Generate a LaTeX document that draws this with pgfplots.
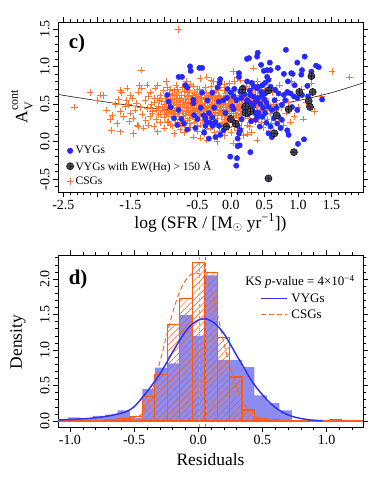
\documentclass[border=0pt]{standalone}
\usepackage{pgfplots}
\pgfplotsset{compat=1.18}
\usetikzlibrary{patterns.meta}
\usepackage{fontspec}
\setmainfont{Liberation Serif}

\definecolor{csg}{RGB}{255,115,45}
\definecolor{vyg}{RGB}{40,40,250}
\definecolor{ewfill}{RGB}{75,75,90}
\definecolor{histblue}{RGB}{140,140,240}
\definecolor{historange}{RGB}{255,90,20}
\definecolor{kdeblue}{RGB}{50,50,240}
\definecolor{kdeorange}{RGB}{255,100,40}

\pgfplotsset{
  panel/.style={
    scale only axis, width=305bp,
    tick align=outside,
    major tick length=5bp, minor tick length=3bp,
    every tick/.style={black, line width=0.5pt},
    axis line style={line width=0.7pt},
    ticklabel style={font=\fontsize{14}{14}\selectfont},
    label style={font=\fontsize{17.5}{18}\selectfont},
    yticklabel style={rotate=90, anchor=south},
    /pgf/number format/assume math mode=true,
  },
}

\begin{document}
\begin{tikzpicture}

% ---------------- panel c) ----------------
\begin{axis}[panel,
  at={(58bp,289bp)}, anchor=south west, height=170bp,
  xmin=-2.58, xmax=1.97, ymin=-0.67, ymax=1.59,
  xtick={-2.5,-2,-1.5,-1,-0.5,0,0.5,1,1.5},
  xticklabels={-2.5,,-1.5,,-0.5,0.0,0.5,1.0,1.5},
  minor xtick={-2.5,-2.4,...,1.95},
  ytick={-0.5,0,0.5,1,1.5},
  yticklabels={-0.5,0.0,0.5,1.0,1.5},
  minor ytick={-0.6,-0.5,...,1.55},
  xlabel={log (SFR / [M$_\odot$ yr\textsuperscript{−1}])},
  ylabel={A\rlap{\raisebox{-0.3em}{\fontsize{12}{12}\selectfont V}}\raisebox{0.55em}{\fontsize{12}{12}\selectfont cont}},
  xlabel style={at={(axis description cs:0.5,-0.182)}, anchor=center},
  ylabel style={at={(axis description cs:-0.118,0.5)}, anchor=center},
  legend style={at={(rel axis cs:0.024,0.015)}, anchor=south west, draw=none, fill=none,
    font=\fontsize{11.5}{13}\selectfont, row sep=1.5bp, inner sep=1bp},
  legend cell align=left,
]
\addlegendimage{only marks, mark=*, mark size=2.8bp, color=vyg}
\addlegendentry{VYGs}
\addlegendimage{only marks, mark=oplus*, mark size=3.6bp, draw=black, fill=ewfill}
\addlegendentry{VYGs with EW(Hα) > 150 Å}
\addlegendimage{only marks, mark=+, mark size=3.6bp, color=csg, line width=0.65pt}
\addlegendentry{CSGs}

% CSGs
\addplot[forget plot, only marks, mark=+, mark size=3.3bp, color=csg, line width=0.65pt] coordinates {
(-2.33,0.46) (-2.10,0.65) (-2.00,0.55) (-1.95,0.62) (-1.90,0.61) (-1.86,0.42) (-1.80,0.29) (-1.77,0.35)
(-1.78,0.15) (-1.72,0.49) (-1.70,0.24) (-1.68,0.56) (-1.65,0.68) (-1.65,0.40) (-1.65,0.13) (-1.63,0.65)
(-1.60,0.33) (-1.58,0.47) (-1.56,0.55) (-1.55,0.71) (-1.53,0.49) (-1.52,0.27) (-1.50,0.38) (-1.50,0.62)
(-1.47,0.58) (-1.46,0.31) (-1.45,0.11) (-1.43,0.42) (-1.41,0.51) (-1.40,0.22) (-1.38,0.20) (-1.38,0.66)
(-1.36,0.75) (-1.35,0.45) (-1.33,0.95) (-1.33,0.71) (-1.32,0.36) (-1.30,0.18) (-1.28,0.55) (-1.27,0.28)
(-1.25,0.75) (-1.25,0.44) (-1.23,0.22) (-1.23,0.60) (-1.21,0.33) (-1.20,0.66) (-1.19,0.50) (-1.17,0.40)
(-1.15,0.20) (-1.15,0.57) (-1.13,0.71) (-1.12,0.29) (-1.10,0.13) (-1.10,0.75) (-1.09,0.47) (-1.08,0.36)
(-1.06,0.62) (-1.05,0.25) (-1.04,0.53) (-1.02,0.42) (-1.01,0.68) (-1.00,0.32) (-0.99,0.18) (-0.98,0.58)
(-0.97,0.45) (-0.96,0.80) (-0.95,0.38) (-0.94,0.51) (-0.93,0.27) (-0.92,0.64) (-0.91,0.44) (-0.90,0.70)
(-0.89,0.34) (-0.88,0.55) (-0.87,0.21) (-0.86,0.48) (-0.85,0.11) (-0.85,0.61) (-0.84,0.40) (-0.83,0.30)
(-0.82,0.75) (-0.81,0.52) (-0.80,0.43) (-0.80,0.26) (-0.78,1.49)
(-0.79,0.66) (-0.78,0.37) (-0.77,0.57) (-0.76,0.16) (-0.75,0.47) (-0.74,0.29) (-0.73,0.72) (-0.72,0.41)
(-0.71,0.54) (-0.70,0.22) (-0.69,0.62) (-0.68,0.35) (-0.67,0.45) (-0.66,0.80) (-0.65,0.28) (-0.64,0.51)
(-0.63,0.39) (-0.62,0.68) (-0.61,0.19) (-0.60,0.46) (-0.59,0.58) (-0.58,0.33) (-0.57,0.42) (-0.56,0.06)
(-0.56,0.74) (-0.55,0.25) (-0.54,0.52) (-0.53,0.37) (-0.52,0.63) (-0.51,0.44) (-0.50,0.14) (-0.50,0.55)
(-0.49,0.30) (-0.48,0.48) (-0.47,0.70) (-0.46,0.84) (-0.46,0.40) (-0.45,0.22) (-0.44,0.59) (-0.43,0.34)
(-0.42,0.50) (-0.41,0.66) (-0.40,0.43) (-0.40,0.10) (-0.39,0.27) (-0.38,0.56) (-0.37,0.38) (-0.36,0.86)
(-0.36,0.02) (-0.35,0.47) (-0.34,0.61) (-0.33,0.31) (-0.32,0.52) (-0.31,0.18) (-0.30,0.42) (-0.30,0.73)
(-0.29,0.36) (-0.28,0.58) (-0.27,0.45) (-0.26,0.80) (-0.26,0.24) (-0.25,0.50) (-0.24,0.67) (-0.23,0.39)
(-0.22,0.55) (-0.21,0.00) (-0.21,0.31) (-0.20,0.46) (-0.19,0.62) (-0.18,0.14) (-0.18,0.41) (-0.17,0.53)
(-0.16,0.72) (-0.15,0.35) (-0.14,0.48) (-0.13,0.26) (-0.12,0.58) (-0.11,0.43) (-0.10,0.68) (-0.10,0.08)
(-0.09,0.37) (-0.08,0.51) (-0.07,0.30) (-0.06,0.62) (-0.05,0.45) (-0.04,0.19) (-0.03,0.55) (-0.02,0.78)
(-0.02,0.40) (-0.01,0.33) (0.00,0.49) (0.01,0.64) (0.02,0.25) (0.03,0.43) (0.04,0.93) (0.04,-0.02)
(0.05,0.56) (0.06,0.37) (0.07,0.70) (0.08,0.47) (0.09,0.15) (0.10,0.52) (0.11,0.32) (0.12,0.61)
(0.13,0.44) (0.14,0.82) (0.15,0.27) (0.16,0.55) (0.17,0.40) (0.18,0.66) (0.19,0.08) (0.20,0.48)
(0.21,0.35) (0.22,0.59) (0.23,0.74) (0.24,0.42) (0.25,0.22) (0.26,0.52) (0.27,0.63) (0.28,0.31)
(0.29,0.46) (0.30,0.78) (0.31,0.12) (0.32,0.56) (0.33,0.38) (0.34,0.98) (0.35,0.49) (0.36,0.68)
(0.37,0.27) (0.38,0.57) (0.39,0.02) (0.40,0.42) (0.42,0.61) (0.43,0.33) (0.45,0.50) (0.46,0.72)
(0.48,0.19) (0.50,0.44) (0.52,0.58) (0.54,0.30) (0.56,0.84) (0.58,0.47) (0.60,0.24) (0.62,0.65)
(0.63,0.15) (0.65,0.40) (0.68,0.55) (0.70,0.32)
(0.72,0.75) (0.75,0.45) (0.78,0.22) (0.80,0.62) (0.83,0.38) (0.86,0.52) (0.89,0.26) (0.90,0.80)
(0.94,0.33) (0.97,0.58) (1.00,0.45) (1.05,0.70) (1.08,0.30) (1.12,0.52) (1.20,0.78) (1.25,0.40)
(1.35,0.60) (1.51,0.93) (1.77,0.86)
(-1.00,0.50) (-0.97,0.36) (-0.95,0.60) (-0.92,0.47) (-0.90,0.40) (-0.88,0.63) (-0.86,0.37) (-0.84,0.56)
(-0.82,0.46) (-0.80,0.58) (-0.78,0.50) (-0.76,0.41) (-0.74,0.62) (-0.72,0.33) (-0.70,0.49) (-0.68,0.56)
(-0.66,0.40) (-0.64,0.60) (-0.62,0.31) (-0.60,0.52) (-0.58,0.45) (-0.56,0.38) (-0.54,0.65) (-0.52,0.48)
(-0.50,0.40) (-0.48,0.60) (-0.46,0.53) (-0.44,0.45) (-0.42,0.28) (-0.40,0.58) (-0.38,0.47) (-0.36,0.40)
(-0.34,0.55) (-0.32,0.44) (-0.30,0.60) (-0.28,0.49) (-0.26,0.38) (-0.24,0.57) (-0.22,0.45) (-0.20,0.35)
(-0.18,0.60) (-0.16,0.48) (-0.14,0.40) (-0.12,0.52) (-0.10,0.30) (-0.08,0.60) (-0.06,0.45) (-0.04,0.50)
(-0.02,0.58) (0.00,0.38) (0.02,0.52) (0.04,0.45) (0.06,0.62) (0.08,0.35) (0.10,0.58) (0.12,0.50)
(0.14,0.38) (0.16,0.65) (0.18,0.47) (0.20,0.56) (0.22,0.45) (0.24,0.60) (0.26,0.40) (0.28,0.55)
(0.30,0.48) (0.32,0.65) (0.34,0.42) (0.36,0.55) (0.38,0.47) (0.40,0.62) (0.42,0.50) (0.44,0.40)
(0.46,0.57) (0.48,0.66) (0.50,0.36) (0.52,0.50) (-0.95,0.25) (-0.70,0.12) (-0.45,0.05) (-0.25,0.12)
(0.00,0.12) (0.25,0.10) (-0.60,0.76) (-0.30,0.82) (0.10,0.85) (0.40,0.80) (-0.85,0.68) (-1.10,0.58)
(-1.20,0.45) (-1.05,0.36)
(-1.18,0.38) (-1.14,0.52) (-1.11,0.42) (-1.07,0.55) (-1.03,0.46) (-0.99,0.41) (-0.96,0.53) (-0.93,0.39)
(-0.91,0.57) (-0.89,0.48) (-0.87,0.42) (-0.85,0.52) (-0.83,0.36) (-0.81,0.62) (-0.79,0.45) (-0.77,0.33)
(-0.75,0.55) (-0.73,0.49) (-0.71,0.38) (-0.69,0.67) (-0.67,0.52) (-0.65,0.44) (-0.63,0.57) (-0.61,0.36)
(-0.59,0.50) (-0.57,0.62) (-0.55,0.43) (-0.53,0.30) (-0.51,0.57) (-0.49,0.42) (-0.47,0.35) (-0.45,0.63)
(-0.43,0.49) (-0.41,0.40) (-0.39,0.51) (-0.37,0.64) (-0.35,0.33) (-0.33,0.46) (-0.31,0.57) (-0.29,0.48)
(-0.27,0.34) (-0.25,0.62) (-0.23,0.47) (-0.21,0.56) (-0.19,0.39) (-0.17,0.45) (-0.15,0.58) (-0.13,0.36)
(-0.11,0.50) (-0.09,0.64) (-0.07,0.42) (-0.05,0.35) (-0.03,0.47) (-0.01,0.56) (0.01,0.44) (0.03,0.33)
(0.05,0.48) (0.07,0.59) (0.09,0.41) (0.11,0.46) (0.13,0.55) (0.15,0.36) (0.17,0.50) (0.19,0.60)
(0.21,0.42) (0.23,0.53) (0.25,0.47) (0.27,0.37) (0.29,0.58) (0.31,0.45) (0.33,0.52) (0.35,0.40)
(0.37,0.62) (0.39,0.48) (0.41,0.35) (0.43,0.55) (0.45,0.43) (0.47,0.50) (0.49,0.58) (0.51,0.41)
(0.55,0.48) (0.59,0.38) (0.63,0.50) (0.67,0.42) (-0.90,0.22) (-0.75,0.20) (-0.62,0.24) (-0.50,0.20)
(-0.38,0.16) (-0.28,0.20) (-0.15,0.22) (-0.05,0.25) (0.05,0.20) (0.15,0.18) (0.28,0.20) (0.45,0.25)
(-0.95,0.72) (-0.80,0.70) (-0.65,0.66) (-0.50,0.70) (-0.38,0.72) (-0.22,0.68) (-0.10,0.76) (0.05,0.80)
(0.20,0.70) (0.35,0.76) (0.50,0.70)
};

% fit curve
\addplot[forget plot, black!80, line width=0.7pt, smooth] coordinates {
(-2.58,0.63) (-2.5,0.615) (-2.0,0.545) (-1.5,0.48) (-1.0,0.43) (-0.5,0.405) (0.0,0.42)
(0.5,0.47) (1.0,0.545) (1.5,0.65) (1.97,0.78)
};

% VYGs
\addplot[forget plot, only marks, mark=*, mark size=2.7bp, color=vyg] coordinates {
(-0.93,0.53) (-0.90,0.46) (-0.85,0.31) (-0.80,0.22) (-0.65,0.16) (-0.65,0.72) (-0.78,0.86) (-0.73,0.86)
(-0.68,0.75) (-0.61,1.00) (-0.60,0.94) (-0.47,0.98) (-0.43,0.98) (-0.16,0.83) (-0.17,0.78) (-0.43,0.65)
(-0.56,0.56) (-0.56,0.51) (-0.28,0.65) (-0.18,0.53) (-0.11,0.55) (-0.06,0.58) (0.04,0.60) (0.12,0.91)
(0.12,0.86) (0.24,1.10) (0.27,1.11) (0.24,0.80) (0.14,0.66) (0.02,0.47) (0.04,0.43) (-0.78,0.42)
(-0.74,0.30) (-0.70,0.24) (-0.53,0.18) (-0.41,0.35) (-0.38,0.31) (-0.36,0.26) (-0.38,0.21) (-0.33,0.38)
(-0.28,0.32) (-0.31,0.25) (-0.23,0.26) (-0.18,0.21) (-0.16,0.09) (-0.23,0.06) (-0.33,0.04) (-0.27,0.21)
(-0.11,0.15) (-0.06,0.20) (0.10,0.21) (0.14,0.15) (0.12,0.11) (0.10,0.04) (0.13,-0.05) (0.09,-0.22)
(-0.01,-0.20) (0.08,-0.32) (0.29,-0.14) (0.10,-0.06) (0.19,0.46) (0.22,0.49) (0.27,0.44) (0.32,0.42)
(0.29,0.62) (0.34,0.60) (0.39,0.55) (0.37,0.53) (0.24,0.55) (0.29,0.51) (0.34,0.73) (0.39,0.71)
(0.37,0.38) (0.39,0.33) (0.39,1.13) (0.40,1.18) (0.82,1.22) (1.10,1.13) (0.99,1.05) (1.27,1.01)
(1.31,0.99) (0.70,0.98) (0.59,0.95) (0.54,0.95) (0.49,0.94) (0.90,0.91) (0.92,0.90) (0.79,0.90)
(1.06,0.95) (1.05,0.89) (1.14,0.74) (1.36,0.56) (0.54,0.86) (0.56,0.82) (0.51,0.78) (0.47,0.75)
(0.41,0.73) (0.59,0.73) (0.66,0.69) (0.71,0.64) (0.79,0.62) (0.84,0.66) (0.89,0.64) (0.94,0.60)
(0.99,0.58) (1.06,0.62) (0.51,0.64) (0.47,0.62) (0.41,0.58) (0.56,0.46) (0.61,0.42) (0.51,0.38)
(0.47,0.33) (0.64,0.31) (0.76,0.49) (0.81,0.55) (0.91,0.46) (0.99,0.42) (0.71,0.33) (0.76,0.29)
(0.69,0.24) (0.74,0.18) (0.59,0.20) (0.56,0.11) (0.61,0.06) (0.84,0.15) (0.86,0.09) (1.09,0.03)
(1.00,-0.03) (0.41,0.38) (0.37,0.29) (0.43,0.20) (0.05,0.70) (0.08,0.55) (0.15,0.58) (0.18,0.72)
(0.20,0.63) (0.28,0.68) (0.31,0.78) (0.33,0.48) (0.44,0.50) (0.45,0.66) (0.50,0.56) (0.53,0.52)
(0.48,0.45) (0.20,0.40) (0.25,0.36) (0.00,0.65) (-0.05,0.70) (-0.20,0.72) (-0.25,0.45) (-0.35,0.55)
(-0.45,0.45) (-0.50,0.30) (-0.08,0.38) (0.16,0.30) (0.30,0.27) (0.53,0.25) (0.65,0.55) (0.68,0.45)
(1.20,0.93) (1.15,0.60) (0.95,0.75) (0.85,0.80) (-0.95,0.62) (-0.40,0.12) (-0.55,0.35) (0.58,1.05)
(0.45,1.02)
};

% VYGs with EW(Halpha) > 150 A
\addplot[forget plot, only marks, mark=oplus*, mark size=3.6bp, draw=black, fill=ewfill] coordinates {
(0.17,0.69) (0.56,0.68) (1.02,0.66) (1.22,0.66) (1.20,0.87) (1.16,0.54) (1.18,0.46) (0.86,0.43)
(0.22,0.47) (0.22,0.38) (0.29,0.40) (0.68,0.35) (0.00,0.30) (0.07,0.24) (-0.07,0.20) (0.65,0.11)
(0.94,-0.14) (0.56,-0.49)
};

\node[font=\bfseries\fontsize{21}{21}\selectfont] at (rel axis cs:0.062,0.876) {c)};
\end{axis}

% ---------------- panel d) ----------------
\begin{axis}[panel,
  at={(58bp,54bp)}, anchor=south west, height=172bp,
  xmin=-1.093, xmax=1.284, ymin=-0.085, ymax=2.338,
  xtick={-1,-0.5,0,0.5,1},
  xticklabels={-1.0,-0.5,0.0,0.5,1.0},
  minor xtick={-1.0,-0.9,...,1.25},
  ytick={0,0.5,1,1.5,2},
  yticklabels={0.0,0.5,1.0,1.5,2.0},
  minor ytick={0,0.1,...,2.35},
  xlabel={Residuals},
  ylabel={Density},
  xlabel style={at={(axis description cs:0.5,-0.192)}, anchor=center},
  ylabel style={at={(axis description cs:-0.131,0.494)}, anchor=center},
  legend style={at={(rel axis cs:0.66,0.795)}, anchor=north west, draw=none, fill=none,
    font=\fontsize{13}{15}\selectfont, row sep=2bp, inner sep=1bp},
  legend cell align=left,
]
\addlegendimage{kdeblue, line width=1.5pt,
  legend image code/.code={\draw[kdeblue, line width=1.5pt] (0bp,0bp) -- (26bp,0bp);}}
\addlegendentry{\hspace{1.5bp}VYGs}
\addlegendimage{kdeorange, line width=1pt,
  legend image code/.code={\draw[kdeorange, line width=1pt, dash pattern=on 5pt off 3pt] (0bp,0bp) -- (26bp,0bp);}}
\addlegendentry{\hspace{1.5bp}CSGs}

% VYG histogram
\addplot[forget plot, ybar interval, fill=histblue, draw=none] coordinates {
(-1.017,0.05) (-0.920,0.03) (-0.823,0.07) (-0.726,0.09) (-0.629,0.15) (-0.532,0.04)
(-0.435,0.45) (-0.338,0.75) (-0.241,0.81) (-0.144,1.49) (-0.047,1.20) (0.050,2.05)
(0.147,0.86) (0.244,0.86) (0.341,0.76) (0.438,0.36) (0.535,0.25) (0.632,0.15) (0.729,0)
};

% CSG histogram
\addplot[forget plot, ybar interval, draw=historange, line width=1.2pt,
  pattern={Lines[angle=45, distance=4.5bp, line width=0.5pt]}, pattern color=historange] coordinates {
(-1.114,0.005) (-1.017,0.005) (-0.920,0.01) (-0.823,0.01) (-0.726,0.015) (-0.629,0.03) (-0.532,0.06)
(-0.435,0.34) (-0.338,0.65) (-0.241,1.36) (-0.144,1.72) (-0.047,2.23) (0.050,2.09)
(0.147,1.18) (0.244,0.62) (0.341,0.155) (0.438,0.04) (0.535,0.02) (0.632,0.01) (0.729,0.005)
(0.826,0.005) (0.923,0.01) (1.020,0.015) (1.117,0.01) (1.214,0.01) (1.311,0)
};

% mean lines
\addplot[forget plot, vyg!70, line width=0.5pt, dashed] coordinates {(0.058,-0.085) (0.058,2.338)};
\addplot[forget plot, historange!70, line width=0.5pt, dashed] coordinates {(0.005,-0.085) (0.005,2.338)};

% KDE curves
\addplot[forget plot, kdeorange, line width=1pt, dash pattern=on 5pt off 3pt, smooth] coordinates {
(-1.09,0.005) (-0.8,0.008) (-0.6,0.02) (-0.5,0.05) (-0.45,0.08) (-0.4,0.22) (-0.35,0.48)
(-0.3,0.82) (-0.25,1.18) (-0.2,1.52) (-0.15,1.80) (-0.1,1.98) (-0.05,2.07) (0.0,2.08)
(0.05,2.01) (0.1,1.84) (0.15,1.50) (0.2,1.10) (0.25,0.75) (0.3,0.47) (0.35,0.26) (0.4,0.13)
(0.45,0.06) (0.5,0.03) (0.6,0.012) (0.8,0.006) (1.0,0.008) (1.1,0.01) (1.2,0.008) (1.28,0.005)
};
\addplot[forget plot, kdeblue, line width=1.5pt, smooth] coordinates {
(-1.093,0.015) (-1.0,0.02) (-0.9,0.03) (-0.8,0.045) (-0.7,0.07) (-0.6,0.11) (-0.55,0.14)
(-0.5,0.20) (-0.45,0.30) (-0.4,0.41) (-0.35,0.53) (-0.3,0.66) (-0.25,0.81) (-0.2,0.97)
(-0.15,1.12) (-0.1,1.26) (-0.05,1.36) (0.0,1.42) (0.05,1.44) (0.1,1.41) (0.15,1.34)
(0.2,1.23) (0.25,1.08) (0.3,0.92) (0.35,0.77) (0.4,0.61) (0.45,0.48) (0.5,0.37) (0.55,0.27)
(0.6,0.19) (0.65,0.13) (0.7,0.085) (0.75,0.055) (0.8,0.035) (0.85,0.02) (0.9,0.01) (0.97,0.003)
};

\node[font=\bfseries\fontsize{21}{21}\selectfont] at (rel axis cs:0.066,0.855) {d)};
\node[anchor=east, font=\fontsize{13}{15}\selectfont] at (rel axis cs:0.984,0.843)
  {KS \textit{p}-value = 4×10\textsuperscript{−4}};
\end{axis}

\pgfresetboundingbox
\path[use as bounding box] (0,0) rectangle (374bp,481bp);
\end{tikzpicture}
\end{document}
